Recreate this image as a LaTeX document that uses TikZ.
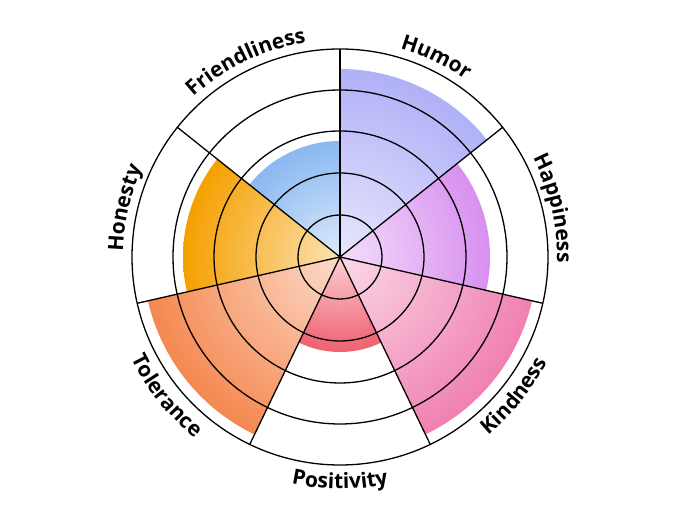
\documentclass[tikz,border=0pt]{standalone}
\usepackage{fontspec}
\setmainfont{Open Sans}
\usetikzlibrary{decorations.text}
\newcommand\lbl{\fontsize{21}{24}\selectfont\bfseries}
\begin{document}
\begin{tikzpicture}[x=1pt,y=1pt]
\useasboundingbox (0,0) rectangle (680,505);
\coordinate (C) at (340,248);
\def\s{51.4286}
% wedges: start angle, fill radius, color
\foreach \a/\r/\col in {38.57/188/B0B0F8, 90/116/8AB8F0, 141.43/157/F5A000, 192.86/197/F58850, 244.29/95/F06070, 295.71/197/F080B0, 347.14/150/D890F0}{
  \definecolor{wc}{HTML}{\col}
  \begin{scope}
    \clip (C) -- ++(\a:\r) arc[start angle=\a, end angle=\a+\s, radius=\r] -- cycle;
    \shade[inner color=wc!30, outer color=wc] (C) circle[radius=\r];
  \end{scope}
}
\foreach \k in {42,84,126,167}{\draw[line width=1.3pt] (C) circle[radius=\k];}
\draw[line width=1.3pt] (C) circle[radius=208];
\foreach \i in {0,...,6}{\draw[line width=1.3pt] (C) -- ++(90-\i*\s:208);}
% labels
\foreach \t/\m in {Humor/64.29, Friendliness/115.71, Honesty/167.14, Happiness/12.86}{
  \path[decorate, decoration={text along path, text={|\lbl|\t}, text align=center}]
    (C) ++(\m+30:217) arc[start angle=\m+30, end angle=\m-30, radius=217];
}
\foreach \t/\m in {Tolerance/218.57, Positivity/270, Kindness/321.43}{
  \path[decorate, decoration={text along path, text={|\lbl|\t}, text align=center}]
    (C) ++(\m-30:232) arc[start angle=\m-30, end angle=\m+30, radius=232];
}
\end{tikzpicture}
\end{document}
